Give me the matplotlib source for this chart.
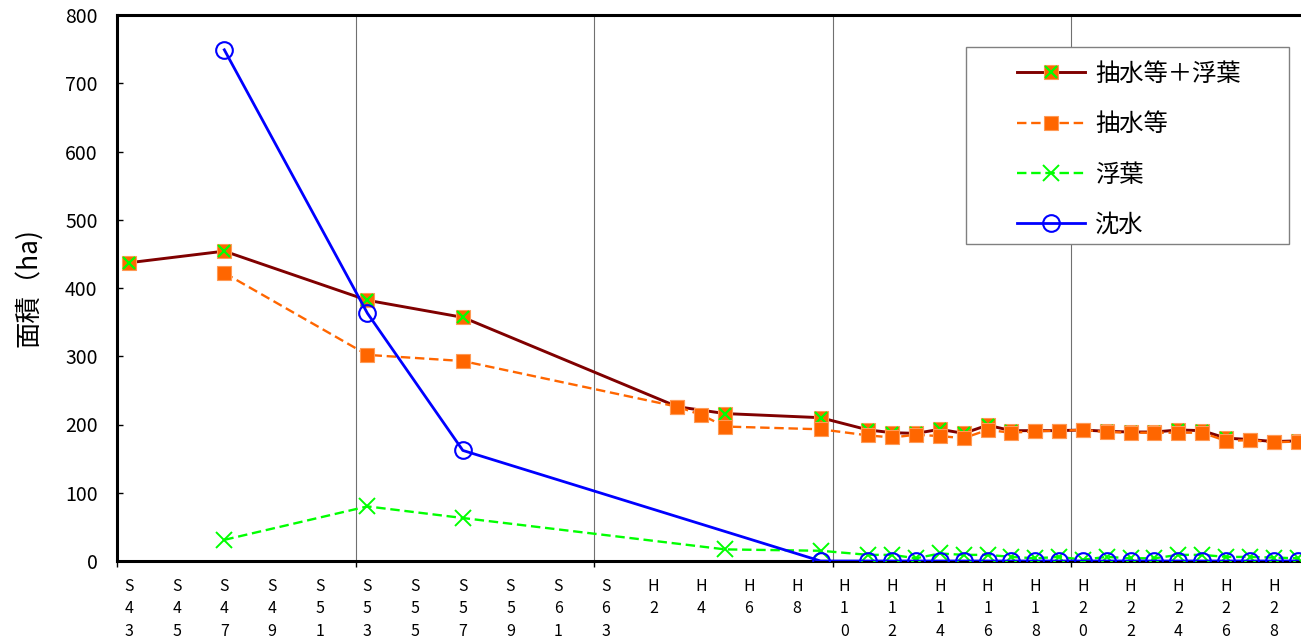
import matplotlib
matplotlib.use("Agg")
import matplotlib.pyplot as plt
from matplotlib.patches import Rectangle
from matplotlib.legend_handler import HandlerTuple

plt.rcParams['font.family'] = ['Noto Sans CJK JP', 'DejaVu Sans']

# fiscal years S43 .. H29, one category per year
years = ['S%d' % y for y in range(43, 64)] + ['H%d' % y for y in range(1, 30)]

# 抽水等＋浮葉
comb_years = ['S43', 'S47', 'S53', 'S57', 'H3', 'H5', 'H9', 'H11', 'H12', 'H13',
              'H14', 'H15', 'H16', 'H17', 'H18', 'H19', 'H20', 'H21', 'H22', 'H23',
              'H24', 'H25', 'H26', 'H27', 'H28', 'H29']
comb_vals = [437, 454, 382, 357, 226, 216, 210, 192, 188, 187,
             193, 187, 199, 191, 191, 191, 192, 190, 189, 189,
             192, 191, 180, 178, 175, 176]

# 抽水等
emerg_years = ['S47', 'S53', 'S57', 'H3', 'H4', 'H5', 'H9', 'H11', 'H12', 'H13',
               'H14', 'H15', 'H16', 'H17', 'H18', 'H19', 'H20', 'H21', 'H22', 'H23',
               'H24', 'H25', 'H26', 'H27', 'H28', 'H29']
emerg_vals = [422, 302, 293, 226, 214, 197, 193, 184, 181, 185,
              183, 180, 192, 188, 190, 191, 192, 189, 188, 188,
              188, 188, 176, 177, 174, 175]

# 浮葉
float_years = ['S47', 'S53', 'S57', 'H5', 'H9', 'H11', 'H12', 'H13', 'H14', 'H15',
               'H16', 'H17', 'H18', 'H19', 'H20', 'H21', 'H22', 'H23', 'H24', 'H25',
               'H26', 'H27', 'H28', 'H29']
float_vals = [31, 80, 63, 17, 15, 9, 9, 4, 11, 9,
              9, 6, 4, 6, 2, 6, 4, 4, 9, 9,
              6, 6, 5, 4]

# 沈水
sub_years = ['S47', 'S53', 'S57', 'H9', 'H11', 'H12', 'H13', 'H14', 'H15', 'H16',
             'H17', 'H18', 'H19', 'H20', 'H21', 'H22', 'H23', 'H24', 'H25', 'H26',
             'H27', 'H28', 'H29']
sub_vals = [749, 363, 162, 0, 0, 0, 0, 0, 0, 0,
            0, 0, 0, 0, 0, 0, 0, 0, 0, 0,
            0, 0, 0]


def xpos(ys):
    return [years.index(y) + 0.5 for y in ys]


def stacked(label):
    # "S43" -> "S\n4\n3"
    return '\n'.join(label)


fig = plt.figure(figsize=(13.01, 6.40), dpi=100)
ax = fig.add_axes([117 / 1301, 79 / 640, 1192.5 / 1301, 546 / 640])

ORANGE = '#FF6600'
GREEN = '#00FF00'
DASH = (0, (4, 2))

l_comb, = ax.plot(xpos(comb_years), comb_vals, color='#800000', lw=2.1,
                  marker='s', ms=10.5, mfc=ORANGE, mec='#FF9A55', mew=0.8, zorder=3)
x_comb, = ax.plot(xpos(comb_years), comb_vals, ls='none', marker='x', ms=9,
                  mec=GREEN, mew=1.6, zorder=3)
l_emerg, = ax.plot(xpos(emerg_years), emerg_vals, color=ORANGE, lw=1.7, ls=DASH,
                   marker='s', ms=10.5, mfc=ORANGE, mec='#FF9A55', mew=0.8, zorder=4)
l_float, = ax.plot(xpos(float_years), float_vals, color=GREEN, lw=1.7, ls=DASH,
                   marker='x', ms=12, mec=GREEN, mew=1.4, zorder=5)
l_sub, = ax.plot(xpos(sub_years), sub_vals, color='#0000FF', lw=2.0,
                 marker='o', ms=12, mfc='none', mec='#0000FF', mew=1.5, zorder=6)

for b in range(10, 50, 10):
    ax.axvline(b, color='#707070', lw=0.8, zorder=1)

ax.set_xlim(0, len(years))
ax.set_ylim(0, 800)
ax.set_yticks(range(0, 801, 100))
ax.tick_params(axis='y', direction='in', length=4, width=1, labelsize=14, pad=14)

label_pos = [i + 0.5 for i in range(0, len(years), 2)]
ax.set_xticks(label_pos)
ax.set_xticklabels([stacked(years[i]) for i in range(0, len(years), 2)],
                   fontsize=11.5, linespacing=1.43)
ax.tick_params(axis='x', length=0, pad=12)
ax.set_xticks(range(0, len(years) + 1, 10), minor=True)
ax.tick_params(axis='x', which='minor', direction='out', length=4, width=1)

for side in ['left', 'top', 'bottom']:
    ax.spines[side].set_linewidth(2.2)
ax.spines['right'].set_visible(False)

ax.set_ylabel('面積（ha)', fontsize=19)
ax.yaxis.set_label_coords(-0.063, 0.5)

leg = fig.legend([(l_comb, x_comb), l_emerg, l_float, l_sub],
                 ['抽水等＋浮葉', '抽水等', '浮葉', '沈水'],
                 handler_map={tuple: HandlerTuple(ndivide=1)},
                 loc='upper left', bbox_to_anchor=(1017 / 1301, 1 - 61 / 640),
                 frameon=False, fontsize=17.5, handlelength=2.8,
                 handletextpad=0.41, labelspacing=1.0, borderpad=0,
                 borderaxespad=0)
fig.patches.append(Rectangle((966 / 1301, 1 - 244 / 640), 323 / 1301, 197 / 640,
                             transform=fig.transFigure, fill=True, facecolor='white',
                             edgecolor='#808080', lw=1, zorder=0))

fig.savefig('out.png', dpi=100)
